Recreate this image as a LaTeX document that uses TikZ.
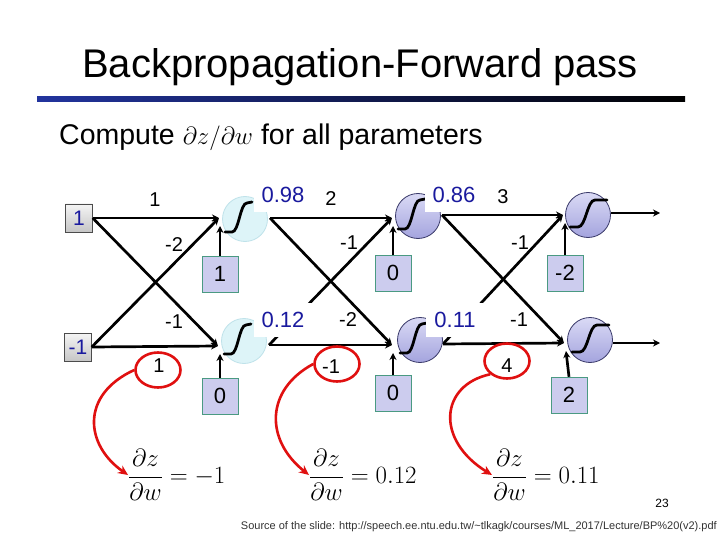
\documentclass[tikz,border=0pt]{standalone}
\usepackage{fontspec}
\setmainfont{Liberation Sans}
\usetikzlibrary{arrows.meta,shapes.geometric}
\definecolor{lblue}{HTML}{1A1A9E}
\definecolor{rulblue}{HTML}{22349E}
\definecolor{cyfill}{HTML}{DDF4F8}
\definecolor{cyedge}{HTML}{BFE2EA}
\definecolor{lavtop}{HTML}{DADAF5}
\definecolor{lavbot}{HTML}{A4A4DE}
\definecolor{lavedge}{HTML}{3A3A6A}
\definecolor{biasfill}{HTML}{CCCCEE}
\definecolor{biasedge}{HTML}{4A9A82}
\definecolor{redc}{HTML}{E01010}
\definecolor{srcgray}{HTML}{333333}
\begin{document}
\begin{tikzpicture}[x=1pt,y=-1pt,
  wire/.style={line width=2.7pt,-{Stealth[length=7pt,width=7pt]}},
  neuronA/.style={circle,minimum size=45pt,inner sep=0pt,fill=cyfill,draw=cyedge,line width=0.8pt},
  neuronB/.style={circle,minimum size=45pt,inner sep=0pt,top color=lavtop,bottom color=lavbot,draw=lavedge,line width=0.8pt},
  sigline/.style={line width=2.8pt,line cap=round},
  labbox/.style={fill=white,text=lblue,font=\fontsize{22}{24}\selectfont,minimum width=58pt,minimum height=34pt,inner sep=0pt},
  inbox/.style={draw=gray!60!black,top color=gray!8,bottom color=gray!45,text=lblue,minimum width=27pt,minimum height=28pt,inner sep=0pt,font=\fontsize{21}{24}\selectfont},
  biasbox/.style={draw=biasedge,fill=biasfill,minimum width=36pt,minimum height=36pt,inner sep=0pt,font=\fontsize{22}{24}\selectfont},
  wlab/.style={font=\fontsize{20}{22}\selectfont,inner sep=0pt},
  redell/.style={draw=redc,line width=2.6pt,ellipse,minimum width=45pt,minimum height=35pt,inner sep=0pt},
  redarrow/.style={draw=redc,line width=2.6pt,-{Stealth[length=10pt,width=9pt]}},
  formula/.style={anchor=west,inner sep=0pt,font=\fontsize{23.5}{27}\selectfont}
]
\useasboundingbox (0,0) rectangle (720,540);
\fill[white] (0,0) rectangle (720,540);

% title
\node[anchor=base,font=\fontsize{40}{44}\selectfont,inner sep=0pt] (title) at (360,78) {Backpropagation-Forward pass};
\shade[left color=rulblue,right color=black] (37,97) rectangle (685,102);
\node[anchor=base west,font=\fontsize{28.5}{31}\selectfont,inner sep=0pt] (sub) at (59,145) {Compute $\partial z/\partial w$ for all parameters};

% arrow end points
\coordinate (a1) at (219,218); \coordinate (b1) at (220,226);
\coordinate (a2) at (218,346); \coordinate (b2) at (220,354);
\coordinate (a3) at (392,218); \coordinate (b3) at (393,226);
\coordinate (a4) at (392,345); \coordinate (b4) at (393,353);
\coordinate (a5) at (563,215); \coordinate (b5) at (565,223);
\coordinate (a6) at (564,343); \coordinate (b6) at (566,351);
\coordinate (o1) at (270,218); \coordinate (o2) at (269,345);
\coordinate (o3) at (442,215); \coordinate (o4) at (443,344);
\coordinate (e1) at (660,213); \coordinate (e2) at (660,343);

% boxes
\node[inbox] (x1) at (79,218) {1};
\node[inbox] (x2) at (78,347) {-1};
\node[biasbox] (bb1) at (220,274) {1};
\node[biasbox] (bb2) at (220,396) {0};
\node[biasbox] (bb3) at (393,273) {0};
\node[biasbox] (bb4) at (393,393) {0};
\node[biasbox] (bb5) at (565,273) {-2};
\node[biasbox] (bb6) at (569,395) {2};

% wires
\draw[wire] (x1.east) -- (a1);
\draw[wire] (x1.east) -- (a2);
\draw[wire] (x2.east) -- (a2);
\draw[wire] (x2.east) -- (a1);
\draw[wire] (o1) -- (a3);
\draw[wire] (o1) -- (a4);
\draw[wire] (o2) -- (a4);
\draw[wire] (o2) -- (a3);
\draw[wire] (o3) -- (a5);
\draw[wire] (o3) -- (a6);
\draw[wire] (o4) -- (a6);
\draw[wire] (o4) -- (a5);
\draw[wire] (bb1.north) -- (b1);
\draw[wire] (bb2.north) -- (b2);
\draw[wire] (bb3.north) -- (b3);
\draw[wire] (bb4.north) -- (b4);
\draw[wire] (bb5.north) -- (b5);
\draw[wire] (bb6.north) -- (b6);

% neurons
\node[neuronA] (n11) at (245,219) {};
\node[neuronA] (n12) at (244,341) {};
\node[neuronB] (n21) at (418,216) {};
\node[neuronB] (n22) at (420,340) {};
\node[neuronB] (n31) at (588,215) {};
\node[neuronB] (n32) at (590,340) {};
\draw[wire] (n31.east) ++(0,-2) -- (e1);
\draw[wire] (n32.east) ++(0,3) -- (e2);

% sigmoids
\foreach \n in {n11,n12,n21,n22}{
  \draw[sigline,shift={(\n.center)}] (-20,13) -- (-13,13) .. controls (-6,13) and (-5,-16) .. (2,-16) -- (7,-17);
}
\foreach \n in {n31,n32}{
  \draw[sigline,shift={(\n.center)}] (-18,12) -- (-10,12) .. controls (-2,12) and (-1,-15) .. (7,-15) -- (19,-15);
}

% output value labels
\node[labbox] (v1) at (283,195) {0.98};
\node[labbox] (v2) at (283,320) {0.12};
\node[labbox] (v3) at (454,195) {0.86};
\node[labbox] (v4) at (455,320) {0.11};

% weights
\node[wlab] (w1) at (155,200) {1};
\node[wlab] (w2) at (174,245) {-2};
\node[wlab] (w3) at (174,322) {-1};
\node[wlab] (w4) at (159,366) {1};
\node[wlab] (w5) at (331,199) {2};
\node[wlab] (w6) at (349,243) {-1};
\node[wlab] (w7) at (348,320) {-2};
\node[wlab] (w8) at (331,367) {-1};
\node[wlab] (w9) at (503,197) {3};
\node[wlab] (w10) at (520,243) {-1};
\node[wlab] (w11) at (519,320) {-1};
\node[wlab] (w12) at (507,366) {4};

% red ellipses
\node[redell] (r1) at (158,370) {};
\node[redell] (r2) at (337,364) {};
\node[redell] (r3) at (507,361) {};

% formulas
\node[formula] (f1) at (128,475) {$\displaystyle\frac{\partial z}{\partial w}=-1$};
\node[formula] (f2) at (309,475) {$\displaystyle\frac{\partial z}{\partial w}=0.12$};
\node[formula] (f3) at (492,475) {$\displaystyle\frac{\partial z}{\partial w}=0.11$};

% red curves
\draw[redarrow] (r1.west) .. controls (80,395) and (85,445) .. (f1.west);
\draw[redarrow] (r2.west) .. controls (265,390) and (265,440) .. (f2.west);
\draw[redarrow] (r3.south west) .. controls (440,385) and (435,440) .. (f3.west);

% footer
\node[font=\fontsize{12}{14}\selectfont,inner sep=0pt] (pg) at (662,503) {23};
\node[anchor=east,font=\fontsize{11}{12}\selectfont,text=srcgray,inner sep=0pt] (src) at (717,527) {Source of the slide: http://speech.ee.ntu.edu.tw/\textasciitilde tlkagk/courses/ML\_2017/Lecture/BP\%20(v2).pdf};
\end{tikzpicture}
\end{document}
